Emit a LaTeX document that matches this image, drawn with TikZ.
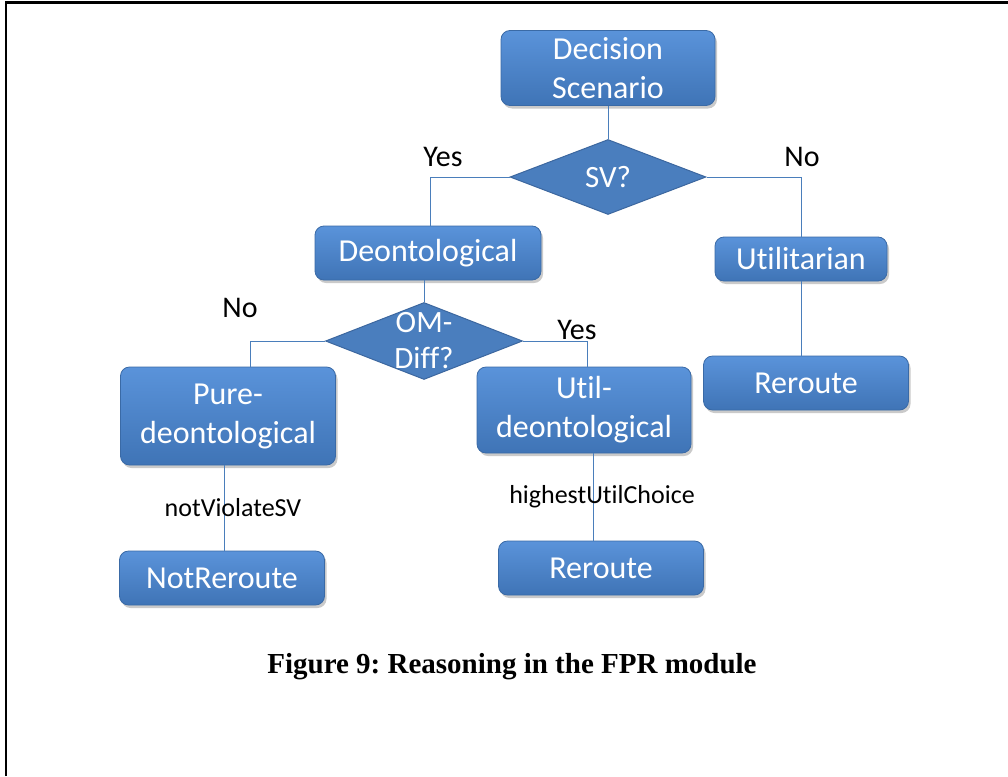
\documentclass[tikz,border=0pt]{standalone}
\usepackage{fontspec}
\setmainfont{Carlito}[Ligatures={NoCommon}]
\newfontfamily\capfont{Liberation Serif}
\usetikzlibrary{shapes.geometric,shadows}
\definecolor{boxtop}{HTML}{5A93DA}
\definecolor{boxbot}{HTML}{3F74B6}
\definecolor{boxline}{HTML}{3A6AA6}
\definecolor{diafill}{HTML}{4A7EBE}
\definecolor{diabord}{HTML}{3C679F}
\definecolor{conncol}{HTML}{4A7EBB}
\tikzset{
  box/.style={draw=boxline, line width=0.8pt, top color=boxtop, bottom color=boxbot,
    rounded corners=9pt, text=white, font=\fontsize{32}{39}\selectfont, align=center,
    inner sep=0pt, drop shadow={shadow xshift=2pt, shadow yshift=-3pt, opacity=0.35, fill=black!60}},
  dia/.style={diamond, draw=diabord, line width=1pt, fill=diafill, inner sep=0pt},
  diatext/.style={text=white, font=\fontsize{31}{36}\selectfont, align=center, inner sep=0pt},
  conn/.style={draw=conncol, line width=0.9pt},
  lbl/.style={text=black, font=\fontsize{30}{34}\selectfont, inner sep=0pt},
  elbl/.style={text=black, font=\fontsize{26}{30}\selectfont, inner sep=0pt}
}
\begin{document}
\frenchspacing
\begin{tikzpicture}[x=1pt,y=-1pt]
\useasboundingbox (0,0) rectangle (1008,776);
\draw[line width=2.2pt] (6,776) -- (6,2.5) -- (1008,2.5);
% nodes
\node[box, minimum width=214pt, minimum height=75pt] (ds) at (608,68) {Decision\\Scenario};
\node[dia, minimum width=196pt, minimum height=75pt] (sv) at (608,177) {};
\node[diatext] (svt) at (sv.center) {SV?};
\node[box, minimum width=226pt, minimum height=54pt] (deon) at (428,253) {Deontological};
\node[box, minimum width=172pt, minimum height=44pt] (util) at (801,259) {Utilitarian};
\node[box, minimum width=205pt, minimum height=54pt] (rr1) at (806,383) {Reroute};
\node[dia, minimum width=197pt, minimum height=77pt] (om) at (424,341) {};
\node[diatext] (omt) at (om.center) {OM-\\Diff?};
\node[box, minimum width=215pt, minimum height=98pt] (pure) at (228,416) {Pure-\\deontological};
\node[box, minimum width=214pt, minimum height=86pt] (ud) at (584,410) {Util-\\deontological};
\node[box, minimum width=205pt, minimum height=54pt] (nr) at (222,578) {NotReroute};
\node[box, minimum width=205pt, minimum height=54pt] (rr2) at (601,568) {Reroute};
% connectors
\draw[conn] (ds.south) -- (sv.north);
\draw[conn] (sv.west) -| ([xshift=2pt]deon.north);
\draw[conn] (sv.east) -| (util.north);
\draw[conn] (util.south) -- (rr1.north -| util.south);
\draw[conn] ([xshift=-4pt]deon.south) -- (om.north);
\draw[conn] (om.west) -| ([xshift=22pt]pure.north);
\draw[conn] (om.east) -| ([xshift=3pt]ud.north);
\draw[conn] ([xshift=-4pt]pure.south) -- ([xshift=2pt]nr.north);
\draw[conn] ([xshift=9pt]ud.south) -- ([xshift=-8pt]rr2.north);
% labels
\node[lbl] (ly1) at (443,157) {Yes};
\node[lbl] (ln1) at (802,157) {No};
\node[lbl] (ln2) at (240,308) {No};
\node[lbl] (ly2) at (577,330) {Yes};
\node[elbl] (lnv) at (233,508) {notViolateSV};
\node[elbl] (lhu) at (602,497) {highestUtilChoice};
\node[font=\capfont\bfseries\fontsize{29}{33}\selectfont, inner sep=0pt] (cap) at (512,667) {Figure 9: Reasoning in the FPR module};
\end{tikzpicture}
\end{document}
